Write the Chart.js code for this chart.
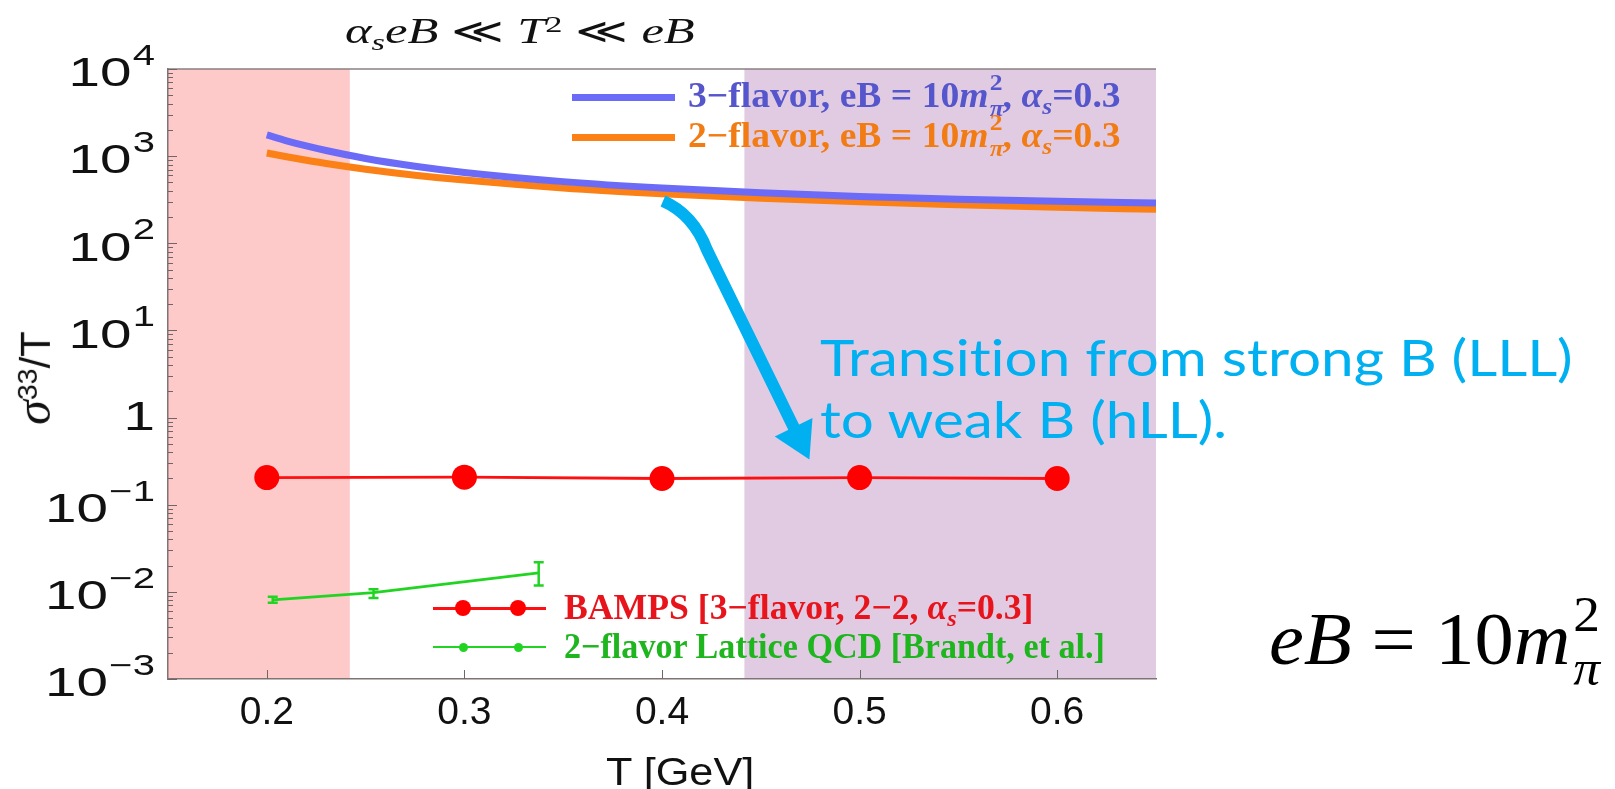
<!DOCTYPE html>
<html><head><meta charset="utf-8">
<script src="https://cdn.jsdelivr.net/npm/chart.js@4.4.1/dist/chart.umd.min.js"></script>
<style>
html,body{margin:0;padding:0;background:#fff;width:1615px;height:789px;overflow:hidden;}
#wrap{position:relative;width:1615px;height:789px;}
canvas{position:absolute;left:0;top:0;}
.t{position:absolute;white-space:nowrap;line-height:1;transform-origin:0 0;left:0;top:0;font-variant-ligatures:none;}
.serif{font-family:"Liberation Serif","DejaVu Serif",serif;}
.leg{font-weight:bold;font-size:35px;}
.sup{position:relative;top:-0.45em;font-size:0.68em;}
.sub{position:relative;top:0.28em;font-size:0.68em;}
.bl{display:inline-block;width:0;height:0;}
.stack{display:inline-block;position:relative;width:0.55em;height:0;font-size:0.68em;}
.stack .up{position:absolute;left:0.05em;top:-1.5em;}
.stack .dn{position:absolute;left:0.05em;top:-0.42em;}
.sw{position:absolute;}
.dot{position:absolute;border-radius:50%;}
</style></head>
<body><div id="wrap">
<canvas id="c" width="1615" height="789"></canvas>

<div class="t serif" style="font-size:35px;color:#111;" data-cx="520" data-w="350" data-base="43"><span class="bl"></span><i>α</i><span class="sub"><i>s</i></span><i>eB</i> ≪ <i>T</i><span class="sup">2</span> ≪ <i>eB</i></div>

<div class="sw" style="left:572px;top:93.5px;width:103px;height:7px;background:#6b6bf7;"></div>
<div class="t serif leg" style="color:#5656cc;" data-left="688" data-w="433" data-base="107"><span class="bl"></span>3−flavor, eB = 10<i>m</i><span class="stack"><span class="up">2</span><span class="dn"><i>π</i></span></span>, <i>α<span class="sub">s</span></i>=0.3</div>
<div class="sw" style="left:572px;top:133.5px;width:103px;height:7px;background:#fb8016;"></div>
<div class="t serif leg" style="color:#f27c14;" data-left="688" data-w="433" data-base="147"><span class="bl"></span>2−flavor, eB = 10<i>m</i><span class="stack"><span class="up">2</span><span class="dn"><i>π</i></span></span>, <i>α<span class="sub">s</span></i>=0.3</div>

<div class="sw" style="left:433px;top:606.5px;width:113px;height:3px;background:#ff1010;"></div>
<div class="dot" style="left:455px;top:600px;width:16px;height:16px;background:#ff0000;"></div>
<div class="dot" style="left:510px;top:600px;width:16px;height:16px;background:#ff0000;"></div>
<div class="t serif leg" style="color:#e8141c;" data-left="564" data-w="470" data-base="619"><span class="bl"></span>BAMPS [3−flavor, 2−2, <i>α<span class="sub">s</span></i>=0.3]</div>

<div class="sw" style="left:433px;top:645.7px;width:113px;height:2.6px;background:#22d422;"></div>
<div class="dot" style="left:458.5px;top:642.5px;width:9px;height:9px;background:#22d422;"></div>
<div class="dot" style="left:513.5px;top:642.5px;width:9px;height:9px;background:#22d422;"></div>
<div class="t serif leg" style="color:#1fb51f;" data-left="564" data-w="541" data-base="658"><span class="bl"></span>2−flavor Lattice QCD [Brandt, et al.]</div>

<div class="t" style="font-family:Lato,'Open Sans',sans-serif;font-size:51px;line-height:62px;color:#00b0f0;" data-left="820" data-w="753" data-base="376"><span class="bl"></span>Transition from strong B (LLL)<br>to weak B (hLL).</div>

<div class="t serif" style="font-size:74px;color:#000;" data-left="1269" data-w="331" data-base="664"><span class="bl"></span><i>eB</i> = 10<i>m</i><span class="stack"><span class="up">2</span><span class="dn"><i>π</i></span></span></div>

<div class="t" style="font-family:'Liberation Sans',Arial,sans-serif;font-size:38px;color:#111;" data-cx="680" data-w="148" data-base="785"><span class="bl"></span>T [GeV]</div>

<div id="ytitle" class="t" style="font-family:'Liberation Sans',Arial,sans-serif;font-size:42px;color:#111;"><i style="font-family:'Liberation Serif',serif;font-size:50px;">σ</i><span class="sup">33</span>/T</div>
</div>

<script>
// ---------------- data ----------------
const tCurve = [0.2, 0.21, 0.22, 0.23, 0.25, 0.275, 0.3, 0.35, 0.4, 0.45, 0.5, 0.55, 0.6, 0.65];
const sigma3flavor = [1750, 1500, 1310, 1160, 940, 765, 650, 510, 430, 380, 345, 321, 303, 289];
const sigma2flavor = [1085, 984, 896, 822, 708, 605, 531, 432, 371, 329, 299, 277, 259, 245];
const tBamps = [0.2, 0.3, 0.4, 0.5, 0.6];
const sigmaBamps = [0.205, 0.207, 0.2, 0.205, 0.2];
const tLattice = [0.203, 0.254, 0.3376];
const sigmaLattice = [0.0081, 0.0098, 0.0165];
const latticeLo = [0.0075, 0.0085, 0.0118];
const latticeHi = [0.0088, 0.0107, 0.0219];
const xTickValues = [0.2, 0.3, 0.4, 0.5, 0.6];
const yDecadeExponents = [-3, -2, -1, 0, 1, 2, 3, 4];
const lowTRegion = [0.15, 0.242];
const highTRegion = [0.4417, 0.65];
// annotation arrow path in data coordinates (T, sigma/T)
const arrowT = [0.4005, 0.4157, 0.4228, 0.4746];
const arrowS = [305, 216, 83.6, 0.33];

const pts = (xs, ys) => xs.map((x, i) => ({x, y: ys[i]}));

const decor = {
  id: 'decor',
  beforeDraw(chart) {
    const {ctx, chartArea: a, scales: {x}} = chart;
    ctx.save();
    ctx.fillStyle = '#fdc9c9';
    let x0 = x.getPixelForValue(lowTRegion[0]), x1 = x.getPixelForValue(lowTRegion[1]);
    ctx.fillRect(x0, a.top, x1 - x0, a.bottom - a.top);
    ctx.fillStyle = '#e1cbe3';
    x0 = x.getPixelForValue(highTRegion[0]); x1 = x.getPixelForValue(highTRegion[1]);
    ctx.fillRect(x0, a.top, x1 - x0, a.bottom - a.top);
    ctx.restore();
  },
  beforeDatasetsDraw(chart) {
    const {ctx, chartArea: a, scales: {x, y}} = chart;
    ctx.save();
    ctx.strokeStyle = '#8a7f80';
    ctx.lineWidth = 1.5;
    ctx.beginPath(); ctx.moveTo(a.left, a.top); ctx.lineTo(a.right, a.top); ctx.stroke();
    ctx.lineWidth = 1;
    ctx.strokeStyle = '#6f6668';
    ctx.beginPath();
    for (const k of yDecadeExponents) {
      for (let m = 1; m <= 9; m++) {
        if (k === 4 && m > 1) break;
        const py = Math.round(y.getPixelForValue(m * Math.pow(10, k))) + 0.5;
        const len = m === 1 ? 9 : 5;
        ctx.moveTo(a.left, py); ctx.lineTo(a.left + len, py);
      }
    }
    for (const v of xTickValues) {
      const px = Math.round(x.getPixelForValue(v)) + 0.5;
      ctx.moveTo(px, a.bottom); ctx.lineTo(px, a.bottom - 9);
    }
    ctx.stroke();
    ctx.restore();
  },
  afterDatasetsDraw(chart) {
    const {ctx, scales: {x, y}} = chart;
    ctx.save();
    ctx.strokeStyle = '#22d422';
    ctx.lineWidth = 2.5;
    ctx.beginPath();
    tLattice.forEach((t, i) => {
      const px = x.getPixelForValue(t);
      const lo = y.getPixelForValue(latticeLo[i]), hi = y.getPixelForValue(latticeHi[i]);
      ctx.moveTo(px, lo); ctx.lineTo(px, hi);
      ctx.moveTo(px - 5, lo); ctx.lineTo(px + 5, lo);
      ctx.moveTo(px - 5, hi); ctx.lineTo(px + 5, hi);
    });
    ctx.stroke();
    ctx.restore();
  },
  afterDraw(chart) {
    const {ctx, scales: {x, y}} = chart;
    // arrow
    const P = arrowT.map((t, i) => [x.getPixelForValue(t), y.getPixelForValue(arrowS[i])]);
    const tip = P[3], p1 = P[2];
    let dx = tip[0] - p1[0], dy = tip[1] - p1[1];
    const L = Math.hypot(dx, dy); dx /= L; dy /= L;
    const H = 36, W = 21;
    const base = [tip[0] - dx * H, tip[1] - dy * H];
    ctx.save();
    ctx.strokeStyle = '#00b0f0'; ctx.fillStyle = '#00b0f0';
    ctx.lineWidth = 12; ctx.lineCap = 'butt'; ctx.lineJoin = 'round';
    ctx.beginPath();
    ctx.moveTo(P[0][0], P[0][1]);
    ctx.quadraticCurveTo(P[1][0], P[1][1], p1[0], p1[1]);
    ctx.lineTo(base[0] + dx * 2, base[1] + dy * 2);
    ctx.stroke();
    ctx.beginPath();
    ctx.moveTo(tip[0], tip[1]);
    ctx.lineTo(base[0] - dy * W, base[1] + dx * W);
    ctx.lineTo(base[0] + dy * W, base[1] - dx * W);
    ctx.closePath(); ctx.fill();
    ctx.restore();
    // y tick labels
    ctx.save();
    ctx.fillStyle = '#111';
    for (const k of yDecadeExponents) {
      const py = y.getPixelForValue(Math.pow(10, k));
      ctx.save();
      ctx.translate(155, py);
      ctx.scale(1.38, 1);
      ctx.textAlign = 'right'; ctx.textBaseline = 'middle';
      if (k === 0) {
        ctx.font = '41px "Liberation Sans", Arial, sans-serif';
        ctx.fillText('1', 0, 1);
      } else {
        const exp = (k < 0 ? '\u2212' : '') + Math.abs(k);
        ctx.font = '29px "Liberation Sans", Arial, sans-serif';
        const we = ctx.measureText(exp).width;
        ctx.fillText(exp, 0, -12);
        ctx.font = '41px "Liberation Sans", Arial, sans-serif';
        ctx.fillText('10', -we - 1, 6);
      }
      ctx.restore();
    }
    ctx.restore();
  }
};

function placeTexts() {
  document.querySelectorAll('.t[data-base]').forEach(el => {
    const d = el.dataset;
    el.style.left = '0px'; el.style.top = '0px';
    const w = el.offsetWidth;
    const tw = d.w ? +d.w : w;
    el.style.transform = `scaleX(${tw / w})`;
    const left = d.cx !== undefined ? (+d.cx - tw / 2) : +d.left;
    el.style.left = left + 'px';
    const r = el.querySelector('.bl').getBoundingClientRect();
    el.style.top = (+d.base - r.top) + 'px';
  });
  const yt = document.getElementById('ytitle');
  const w = yt.offsetWidth, h = yt.offsetHeight;
  yt.style.transformOrigin = '50% 50%';
  yt.style.left = (33 - w / 2) + 'px';
  yt.style.top = (378 - h / 2) + 'px';
  yt.style.transform = 'rotate(-90deg)';
}

function build() {
  placeTexts();
  new Chart(document.getElementById('c'), {
    type: 'line',
    data: {
      datasets: [
        {label: '3-flavor', data: pts(tCurve, sigma3flavor), borderColor: '#6b6bf7', borderWidth: 7,
         pointRadius: 0, cubicInterpolationMode: 'monotone', fill: false},
        {label: '2-flavor', data: pts(tCurve, sigma2flavor), borderColor: '#fb8016', borderWidth: 7,
         pointRadius: 0, cubicInterpolationMode: 'monotone', fill: false},
        {label: 'BAMPS', data: pts(tBamps, sigmaBamps), borderColor: '#ff1010', borderWidth: 2.8,
         pointRadius: 12.5, pointBorderWidth: 0, pointBackgroundColor: '#ff0000', tension: 0, fill: false},
        {label: 'Lattice', data: pts(tLattice, sigmaLattice), borderColor: '#22d422', borderWidth: 2.8,
         pointRadius: 0, tension: 0, fill: false}
      ]
    },
    options: {
      responsive: false, animation: false, devicePixelRatio: 1,
      layout: {padding: {left: 0, top: 69, right: 459, bottom: 0}},
      plugins: {legend: {display: false}, tooltip: {enabled: false}, title: {display: false}},
      scales: {
        x: {
          type: 'linear', min: 0.15, max: 0.65,
          afterBuildTicks: s => { s.ticks = xTickValues.map(v => ({value: v})); },
          afterFit: s => { s.height = 110; },
          grid: {display: false, drawTicks: false},
          border: {display: true, color: '#7f7374', width: 1.5},
          ticks: {padding: 15, color: '#111', autoSkip: false, maxRotation: 0,
                  font: {family: '"Liberation Sans Narrow", "Liberation Sans", Arial, sans-serif', size: 39, lineHeight: 1},
                  callback: v => Number(v).toFixed(1)}
        },
        y: {
          type: 'logarithmic', min: 1e-3, max: 1e4,
          afterFit: s => { s.width = 168; },
          grid: {display: false, drawTicks: false},
          border: {display: true, color: '#7f7374', width: 1.5},
          ticks: {display: false}
        }
      }
    },
    plugins: [decor]
  });
}

const fontLoads = [
  '41px "Liberation Sans"', '39px "Liberation Sans Narrow"', '28px "Liberation Serif"', 'bold 28px "Liberation Serif"',
  'italic 34px "Liberation Serif"', 'bold italic 28px "Liberation Serif"', '51px Lato'
].map(f => document.fonts.load(f).catch(() => null));
Promise.all(fontLoads).then(build, build);
</script>
</body></html>
